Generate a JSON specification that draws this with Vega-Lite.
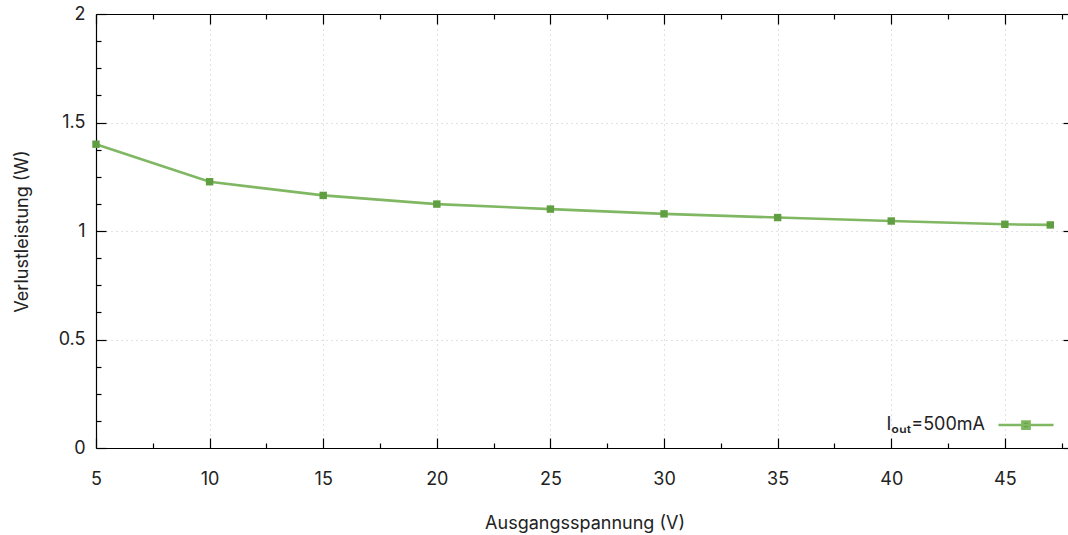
{
  "$schema": "https://vega.github.io/schema/vega-lite/v6.json",
  "width": 977,
  "height": 434,
  "autosize": {"type": "none"},
  "padding": {"left": 96, "top": 14, "right": -5, "bottom": 87},
  "background": "white",
  "config": {
    "view": {"stroke": null},
    "font": "Inter",
    "axis": {
      "domainColor": "#000000",
      "tickColor": "#000000",
      "labelColor": "#222222",
      "titleColor": "#222222",
      "labelFont": "Inter",
      "titleFont": "Inter",
      "labelFontSize": 18,
      "titleFontSize": 18,
      "titleFontWeight": "normal",
      "gridColor": "#c4c4c4",
      "gridDash": [1, 4],
      "gridWidth": 1,
      "domainWidth": 1.2,
      "tickWidth": 1.2
    }
  },
  "datasets": {
    "series": [
      {"U": 5, "P": 1.400, "s": "Iₒᵤₜ=500mA"},
      {"U": 10, "P": 1.227, "s": "Iₒᵤₜ=500mA"},
      {"U": 15, "P": 1.164, "s": "Iₒᵤₜ=500mA"},
      {"U": 20, "P": 1.124, "s": "Iₒᵤₜ=500mA"},
      {"U": 25, "P": 1.101, "s": "Iₒᵤₜ=500mA"},
      {"U": 30, "P": 1.079, "s": "Iₒᵤₜ=500mA"},
      {"U": 35, "P": 1.062, "s": "Iₒᵤₜ=500mA"},
      {"U": 40, "P": 1.046, "s": "Iₒᵤₜ=500mA"},
      {"U": 45, "P": 1.031, "s": "Iₒᵤₜ=500mA"},
      {"U": 47, "P": 1.028, "s": "Iₒᵤₜ=500mA"}
    ]
  },
  "layer": [
    {
      "data": {"name": "series"},
      "mark": {"type": "line", "strokeWidth": 2.6},
      "encoding": {
        "x": {
          "field": "U", "type": "quantitative",
          "scale": {"domain": [5, 48], "nice": false, "zero": false},
          "axis": {
            "orient": "bottom",
            "values": [5, 7.5, 10, 12.5, 15, 17.5, 20, 22.5, 25, 27.5, 30, 32.5, 35, 37.5, 40, 42.5, 45, 47.5],
            "format": "~g",
            "labelExpr": "datum.value % 5 === 0 ? datum.label : ''",
            "tickSize": {"condition": {"test": "datum.value % 5 === 0", "value": -10}, "value": -5},
            "grid": true,
            "gridOpacity": {"condition": {"test": "datum.value % 5 === 0 && datum.value > 5", "value": 1}, "value": 0},
            "labelPadding": 32,
            "labelFlush": false,
            "labelOverlap": false,
            "title": "Ausgangsspannung (V)",
            "titlePadding": 21
          }
        },
        "y": {
          "field": "P", "type": "quantitative",
          "scale": {"domain": [0, 2], "nice": false, "zero": true},
          "axis": {
            "orient": "left",
            "values": [0, 0.125, 0.25, 0.375, 0.5, 0.625, 0.75, 0.875, 1, 1.125, 1.25, 1.375, 1.5, 1.625, 1.75, 1.875, 2],
            "format": "~g",
            "labelExpr": "datum.value % 0.5 === 0 ? datum.label : ''",
            "tickSize": {"condition": {"test": "datum.value % 0.5 === 0", "value": -10}, "value": -5},
            "grid": true,
            "gridOpacity": {"condition": {"test": "datum.value % 0.5 === 0 && datum.value > 0 && datum.value < 2", "value": 1}, "value": 0},
            "labelPadding": 21,
            "labelFlush": false,
            "labelOverlap": false,
            "title": "Verlustleistung (W)",
            "titlePadding": 27
          }
        },
        "color": {
          "field": "s", "type": "nominal",
          "scale": {"range": ["#80b763"]},
          "legend": {
            "orient": "none",
            "legendX": 901,
            "legendY": 382,
            "title": null,
            "padding": 0,
            "symbolType": "M-1,0H1M-0.13,-0.13H0.13V0.13H-0.13Z",
            "symbolSize": 3025,
            "symbolStrokeWidth": 2.6,
            "symbolStrokeColor": "#80b763",
            "symbolFillColor": "#5f9f41",
            "labelAlign": "right",
            "labelOffset": -70,
            "labelFont": "Inter",
            "labelFontSize": 18,
            "labelColor": "#222222",
            "labelLimit": 300
          }
        }
      }
    },
    {
      "data": {"name": "series"},
      "mark": {"type": "point", "shape": "square", "filled": true, "size": 55, "color": "#5f9f41", "opacity": 1},
      "encoding": {
        "x": {
          "field": "U", "type": "quantitative",
          "axis": {
            "orient": "top",
            "values": [5, 7.5, 10, 12.5, 15, 17.5, 20, 22.5, 25, 27.5, 30, 32.5, 35, 37.5, 40, 42.5, 45, 47.5],
            "labels": false,
            "grid": false,
            "title": null,
            "tickSize": {"condition": {"test": "datum.value % 5 === 0", "value": -10}, "value": -5}
          }
        },
        "y": {
          "field": "P", "type": "quantitative",
          "axis": {
            "orient": "right",
            "values": [0, 0.125, 0.25, 0.375, 0.5, 0.625, 0.75, 0.875, 1, 1.125, 1.25, 1.375, 1.5, 1.625, 1.75, 1.875, 2],
            "labels": false,
            "grid": false,
            "title": null,
            "tickSize": {"condition": {"test": "datum.value % 0.5 === 0", "value": -10}, "value": -5}
          }
        }
      }
    }
  ],
  "resolve": {"axis": {"x": "independent", "y": "independent"}}
}
